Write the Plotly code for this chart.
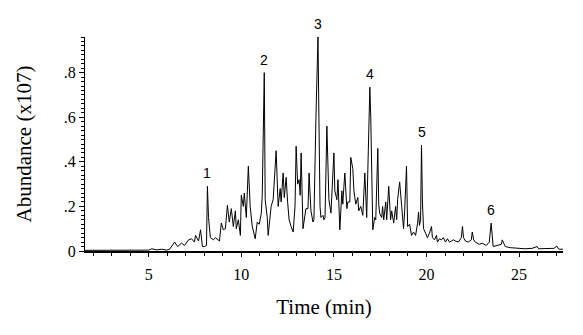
import plotly.graph_objects as go

# Retention time (min) and abundance (x10^7)
time_min = [1.56, 5.0, 5.16, 5.43, 5.7,
            5.97, 6.13, 6.24, 6.40, 6.56, 6.77, 6.94, 7.15, 7.31, 7.47, 7.53, 7.69, 7.80, 7.90,
            8.01, 8.12, 8.17, 8.23, 8.33, 8.49, 8.60, 8.71, 8.82, 8.92, 9.03, 9.14, 9.25, 9.35,
            9.46, 9.57, 9.68, 9.73, 9.84, 9.95, 10.0, 10.11, 10.16, 10.27, 10.38, 10.48, 10.59,
            10.75, 10.86, 10.97, 11.08, 11.13, 11.18, 11.24, 11.29, 11.40, 11.45, 11.61, 11.72,
            11.88, 11.99, 12.10, 12.15, 12.26, 12.32, 12.42, 12.50, 12.58, 12.69, 12.80, 12.90,
            12.96, 13.04, 13.12, 13.18, 13.23, 13.33, 13.39, 13.49, 13.60, 13.66, 13.71, 13.76,
            13.87, 13.92, 14.03, 14.14, 14.19, 14.25, 14.30, 14.41, 14.46, 14.52, 14.62, 14.68,
            14.73, 14.84, 14.89, 15.0, 15.05, 15.16, 15.22, 15.27, 15.32, 15.43, 15.48, 15.54,
            15.59, 15.70, 15.75, 15.86, 15.91, 16.02, 16.08, 16.18, 16.29, 16.34, 16.45, 16.56,
            16.61, 16.67, 16.77, 16.88, 16.94, 16.99, 17.10, 17.20, 17.26, 17.37, 17.42, 17.47,
            17.58, 17.63, 17.69, 17.80, 17.85, 17.96, 18.06, 18.12, 18.23, 18.33, 18.39, 18.44,
            18.55, 18.66, 18.76, 18.82, 18.92, 18.98, 19.09, 19.19, 19.30, 19.41, 19.52, 19.57,
            19.62, 19.68, 19.73, 19.78, 19.84, 19.95, 20.05, 20.16, 20.27, 20.32, 20.43, 20.54,
            20.59, 20.70, 20.81, 20.91, 21.02, 21.13, 21.24, 21.34, 21.45, 21.56, 21.72, 21.88,
            21.94, 22.0, 22.1, 22.26, 22.42, 22.47, 22.55, 22.63, 22.85, 23.01, 23.23, 23.39,
            23.49, 23.6, 23.82, 24.04, 24.09, 24.2, 24.25, 24.52, 24.95, 25.32, 25.7, 25.97,
            26.05, 26.18, 26.4, 26.67, 26.88, 27.04, 27.12, 27.2, 27.37]
abundance = [0.003, 0.004, 0.01, 0.005, 0.008,
             0.004, 0.008, 0.022, 0.04, 0.02, 0.035, 0.025, 0.05, 0.055, 0.04, 0.07, 0.045, 0.095, 0.02,
             0.02, 0.025, 0.29, 0.15, 0.06, 0.05, 0.06, 0.05, 0.045, 0.125, 0.095, 0.1, 0.205, 0.13,
             0.19, 0.11, 0.18, 0.10, 0.14, 0.07, 0.25, 0.2, 0.26, 0.15, 0.38, 0.2, 0.11,
             0.055, 0.13, 0.12, 0.17, 0.25, 0.55, 0.80, 0.23, 0.15, 0.07, 0.2, 0.23,
             0.45, 0.2, 0.28, 0.22, 0.35, 0.24, 0.33, 0.22, 0.14, 0.11, 0.085, 0.2,
             0.47, 0.3, 0.32, 0.25, 0.44, 0.10, 0.14, 0.19, 0.19, 0.35, 0.26, 0.18,
             0.13, 0.14, 0.6, 0.96, 0.6, 0.2, 0.15, 0.16, 0.14, 0.15, 0.56, 0.4,
             0.23, 0.17, 0.24, 0.44, 0.27, 0.23, 0.32, 0.14, 0.095, 0.27, 0.21, 0.29,
             0.35, 0.19, 0.22, 0.22, 0.42, 0.37, 0.27, 0.21, 0.24, 0.18, 0.20, 0.16,
             0.24, 0.35, 0.15, 0.5, 0.735, 0.6, 0.095, 0.15, 0.14, 0.46, 0.21, 0.17,
             0.15, 0.2, 0.14, 0.22, 0.14, 0.29, 0.14, 0.18, 0.125, 0.2, 0.14, 0.23,
             0.31, 0.2, 0.10, 0.18, 0.38, 0.11, 0.12, 0.07, 0.085, 0.07, 0.125, 0.175,
             0.115, 0.14, 0.475, 0.22, 0.10, 0.08, 0.06, 0.08, 0.11, 0.06, 0.05, 0.07,
             0.04, 0.055, 0.05, 0.06, 0.04, 0.055, 0.04, 0.045, 0.05, 0.045, 0.04, 0.06,
             0.11, 0.06, 0.045, 0.04, 0.05, 0.085, 0.05, 0.04, 0.03, 0.035, 0.025, 0.04,
             0.125, 0.02, 0.025, 0.03, 0.05, 0.025, 0.02, 0.015, 0.012, 0.01, 0.012, 0.02,
             0.01, 0.01, 0.012, 0.01, 0.012, 0.022, 0.01, 0.008, 0.008]

# Numbered peaks
peak_labels = ["1", "2", "3", "4", "5", "6"]
peak_times = [8.17, 11.24, 14.14, 16.94, 19.73, 23.49]
peak_heights = [0.29, 0.80, 0.96, 0.735, 0.475, 0.125]

y_tickvals = [0, 0.2, 0.4, 0.6, 0.8]
y_ticktext = ["0", ".2", ".4", ".6", ".8"]
x_tickvals = [5, 10, 15, 20, 25]

serif = "Liberation Serif, Times New Roman, serif"

fig = go.Figure()
fig.add_trace(go.Scatter(x=time_min, y=abundance, mode="lines",
                         line=dict(color="black", width=1), showlegend=False,
                         hoverinfo="skip"))

for lab, t, h in zip(peak_labels, peak_times, peak_heights):
    fig.add_annotation(x=t, y=h, text=lab, showarrow=False, yanchor="bottom",
                       yshift=3, font=dict(family="Liberation Sans, Arial, sans-serif",
                                           size=14, color="black"))

fig.update_layout(
    width=583, height=335,
    margin=dict(l=85, r=20, t=37, b=84),
    paper_bgcolor="white", plot_bgcolor="white",
    font=dict(family=serif, color="black"),
    xaxis=dict(range=[1.56, 27.37], tickvals=x_tickvals, ticks="outside", ticklen=4,
               tickwidth=1, tickcolor="black", showline=True, linecolor="black",
               linewidth=2, showgrid=False, zeroline=False, ticklabelstandoff=4,
               tickfont=dict(family=serif, size=16),
               minor=dict(dtick=1, tick0=0, ticks="outside", ticklen=3, tickcolor="black"),
               title=dict(text="Time (min)", font=dict(family=serif, size=21), standoff=17)),
    yaxis=dict(range=[0, 0.96], tickvals=y_tickvals, ticktext=y_ticktext, ticks="outside",
               ticklen=5, tickwidth=1, tickcolor="black", showline=True, linecolor="black",
               linewidth=1, showgrid=False, zeroline=False,
               tickfont=dict(family=serif, size=16),
               minor=dict(dtick=0.02, tick0=0, ticks="outside", ticklen=3, tickcolor="black"),
               title=dict(text="Abundance (x107)", font=dict(family=serif, size=21), standoff=26)),
)

fig.write_html("out.html")
